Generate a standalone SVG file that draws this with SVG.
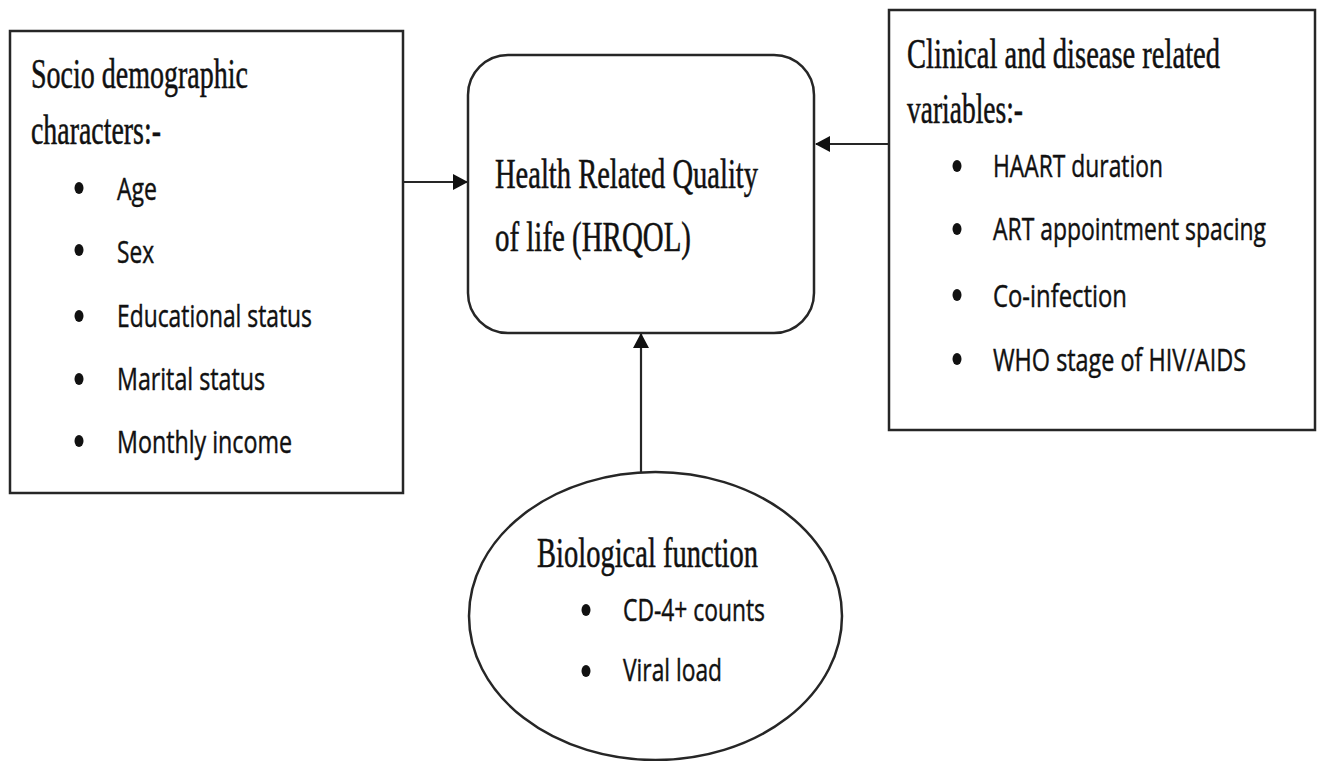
<svg xmlns="http://www.w3.org/2000/svg" width="1322" height="761" viewBox="0 0 1322 761">
  <defs>
    <marker id="arr" markerWidth="15" markerHeight="18" refX="14" refY="9" orient="auto" markerUnits="userSpaceOnUse">
      <path d="M0,1 L15,9 L0,17 Z" fill="#111"/>
    </marker>
    <style>
      .box { fill: #fff; stroke: #262626; stroke-width: 2.5; }
      .edge { stroke: #262626; stroke-width: 2.2; fill: none; }
      .serif { font-family: "Liberation Serif", "Times New Roman", serif; font-size: 28px; fill: #111; stroke: #111; stroke-width: 0.35; }
      .sans { font-family: "Open Sans", "Liberation Sans", sans-serif; font-size: 21px; fill: #111; stroke: #111; stroke-width: 0.3; }
      .dot { fill: #111; }
    </style>
  </defs>
  <rect width="1322" height="761" fill="#fff"/>

  <g id="connectors">
    <line class="edge" x1="403" y1="182" x2="467" y2="182" marker-end="url(#arr)"/>
    <line class="edge" x1="889" y1="144" x2="816" y2="144" marker-end="url(#arr)"/>
    <line class="edge" x1="641" y1="472" x2="641" y2="334" marker-end="url(#arr)"/>
  </g>

  <g id="socio">
    <rect class="box" x="10" y="31" width="393" height="462"/>
    <text class="serif" transform="translate(31,88) scale(1,1.5)" textLength="217" lengthAdjust="spacingAndGlyphs">Socio demographic</text>
    <text class="serif" transform="translate(31,144) scale(1,1.5)" textLength="130" lengthAdjust="spacingAndGlyphs">characters:-</text>
    <ellipse class="dot" cx="79" cy="188" rx="4.5" ry="6"/>
    <ellipse class="dot" cx="79" cy="250" rx="4.5" ry="6"/>
    <ellipse class="dot" cx="79" cy="316" rx="4.5" ry="6"/>
    <ellipse class="dot" cx="79" cy="379" rx="4.5" ry="6"/>
    <ellipse class="dot" cx="79" cy="441" rx="4.5" ry="6"/>
    <text class="sans" transform="translate(117,200) scale(1,1.5)" textLength="40" lengthAdjust="spacingAndGlyphs">Age</text>
    <text class="sans" transform="translate(117,263) scale(1,1.5)" textLength="37" lengthAdjust="spacingAndGlyphs">Sex</text>
    <text class="sans" transform="translate(117,327) scale(1,1.5)" textLength="195" lengthAdjust="spacingAndGlyphs">Educational status</text>
    <text class="sans" transform="translate(117,390) scale(1,1.5)" textLength="148" lengthAdjust="spacingAndGlyphs">Marital status</text>
    <text class="sans" transform="translate(117,453) scale(1,1.5)" textLength="175" lengthAdjust="spacingAndGlyphs">Monthly income</text>
  </g>

  <g id="hrqol">
    <rect class="box" x="468" y="55" width="346" height="278" rx="40" ry="40"/>
    <text class="serif" transform="translate(495,188) scale(1,1.5)" textLength="263" lengthAdjust="spacingAndGlyphs">Health Related Quality</text>
    <text class="serif" transform="translate(495,251) scale(1,1.5)" textLength="196" lengthAdjust="spacingAndGlyphs">of life (HRQOL)</text>
  </g>

  <g id="clinical">
    <rect class="box" x="889" y="10" width="426" height="420"/>
    <text class="serif" transform="translate(907,68) scale(1,1.5)" textLength="313" lengthAdjust="spacingAndGlyphs">Clinical and disease related</text>
    <text class="serif" transform="translate(907,123) scale(1,1.5)" textLength="116" lengthAdjust="spacingAndGlyphs">variables:-</text>
    <ellipse class="dot" cx="957" cy="166" rx="4.5" ry="6"/>
    <ellipse class="dot" cx="957" cy="229" rx="4.5" ry="6"/>
    <ellipse class="dot" cx="957" cy="295" rx="4.5" ry="6"/>
    <ellipse class="dot" cx="957" cy="359" rx="4.5" ry="6"/>
    <text class="sans" transform="translate(993,177) scale(1,1.5)" textLength="170" lengthAdjust="spacingAndGlyphs">HAART duration</text>
    <text class="sans" transform="translate(993,240) scale(1,1.5)" textLength="273" lengthAdjust="spacingAndGlyphs">ART appointment spacing</text>
    <text class="sans" transform="translate(993,307) scale(1,1.5)" textLength="134" lengthAdjust="spacingAndGlyphs">Co-infection</text>
    <text class="sans" transform="translate(993,371) scale(1,1.5)" textLength="253" lengthAdjust="spacingAndGlyphs">WHO stage of HIV/AIDS</text>
  </g>

  <g id="biological">
    <ellipse class="box" cx="655.5" cy="616" rx="186.5" ry="144"/>
    <text class="serif" transform="translate(537,567) scale(1,1.5)" textLength="221" lengthAdjust="spacingAndGlyphs">Biological function</text>
    <ellipse class="dot" cx="586" cy="610" rx="4.5" ry="6"/>
    <ellipse class="dot" cx="586" cy="671" rx="4.5" ry="6"/>
    <text class="sans" transform="translate(623,621) scale(1,1.5)" textLength="142" lengthAdjust="spacingAndGlyphs">CD-4+ counts</text>
    <text class="sans" transform="translate(623,681) scale(1,1.5)" textLength="99" lengthAdjust="spacingAndGlyphs">Viral load</text>
  </g>
</svg>
